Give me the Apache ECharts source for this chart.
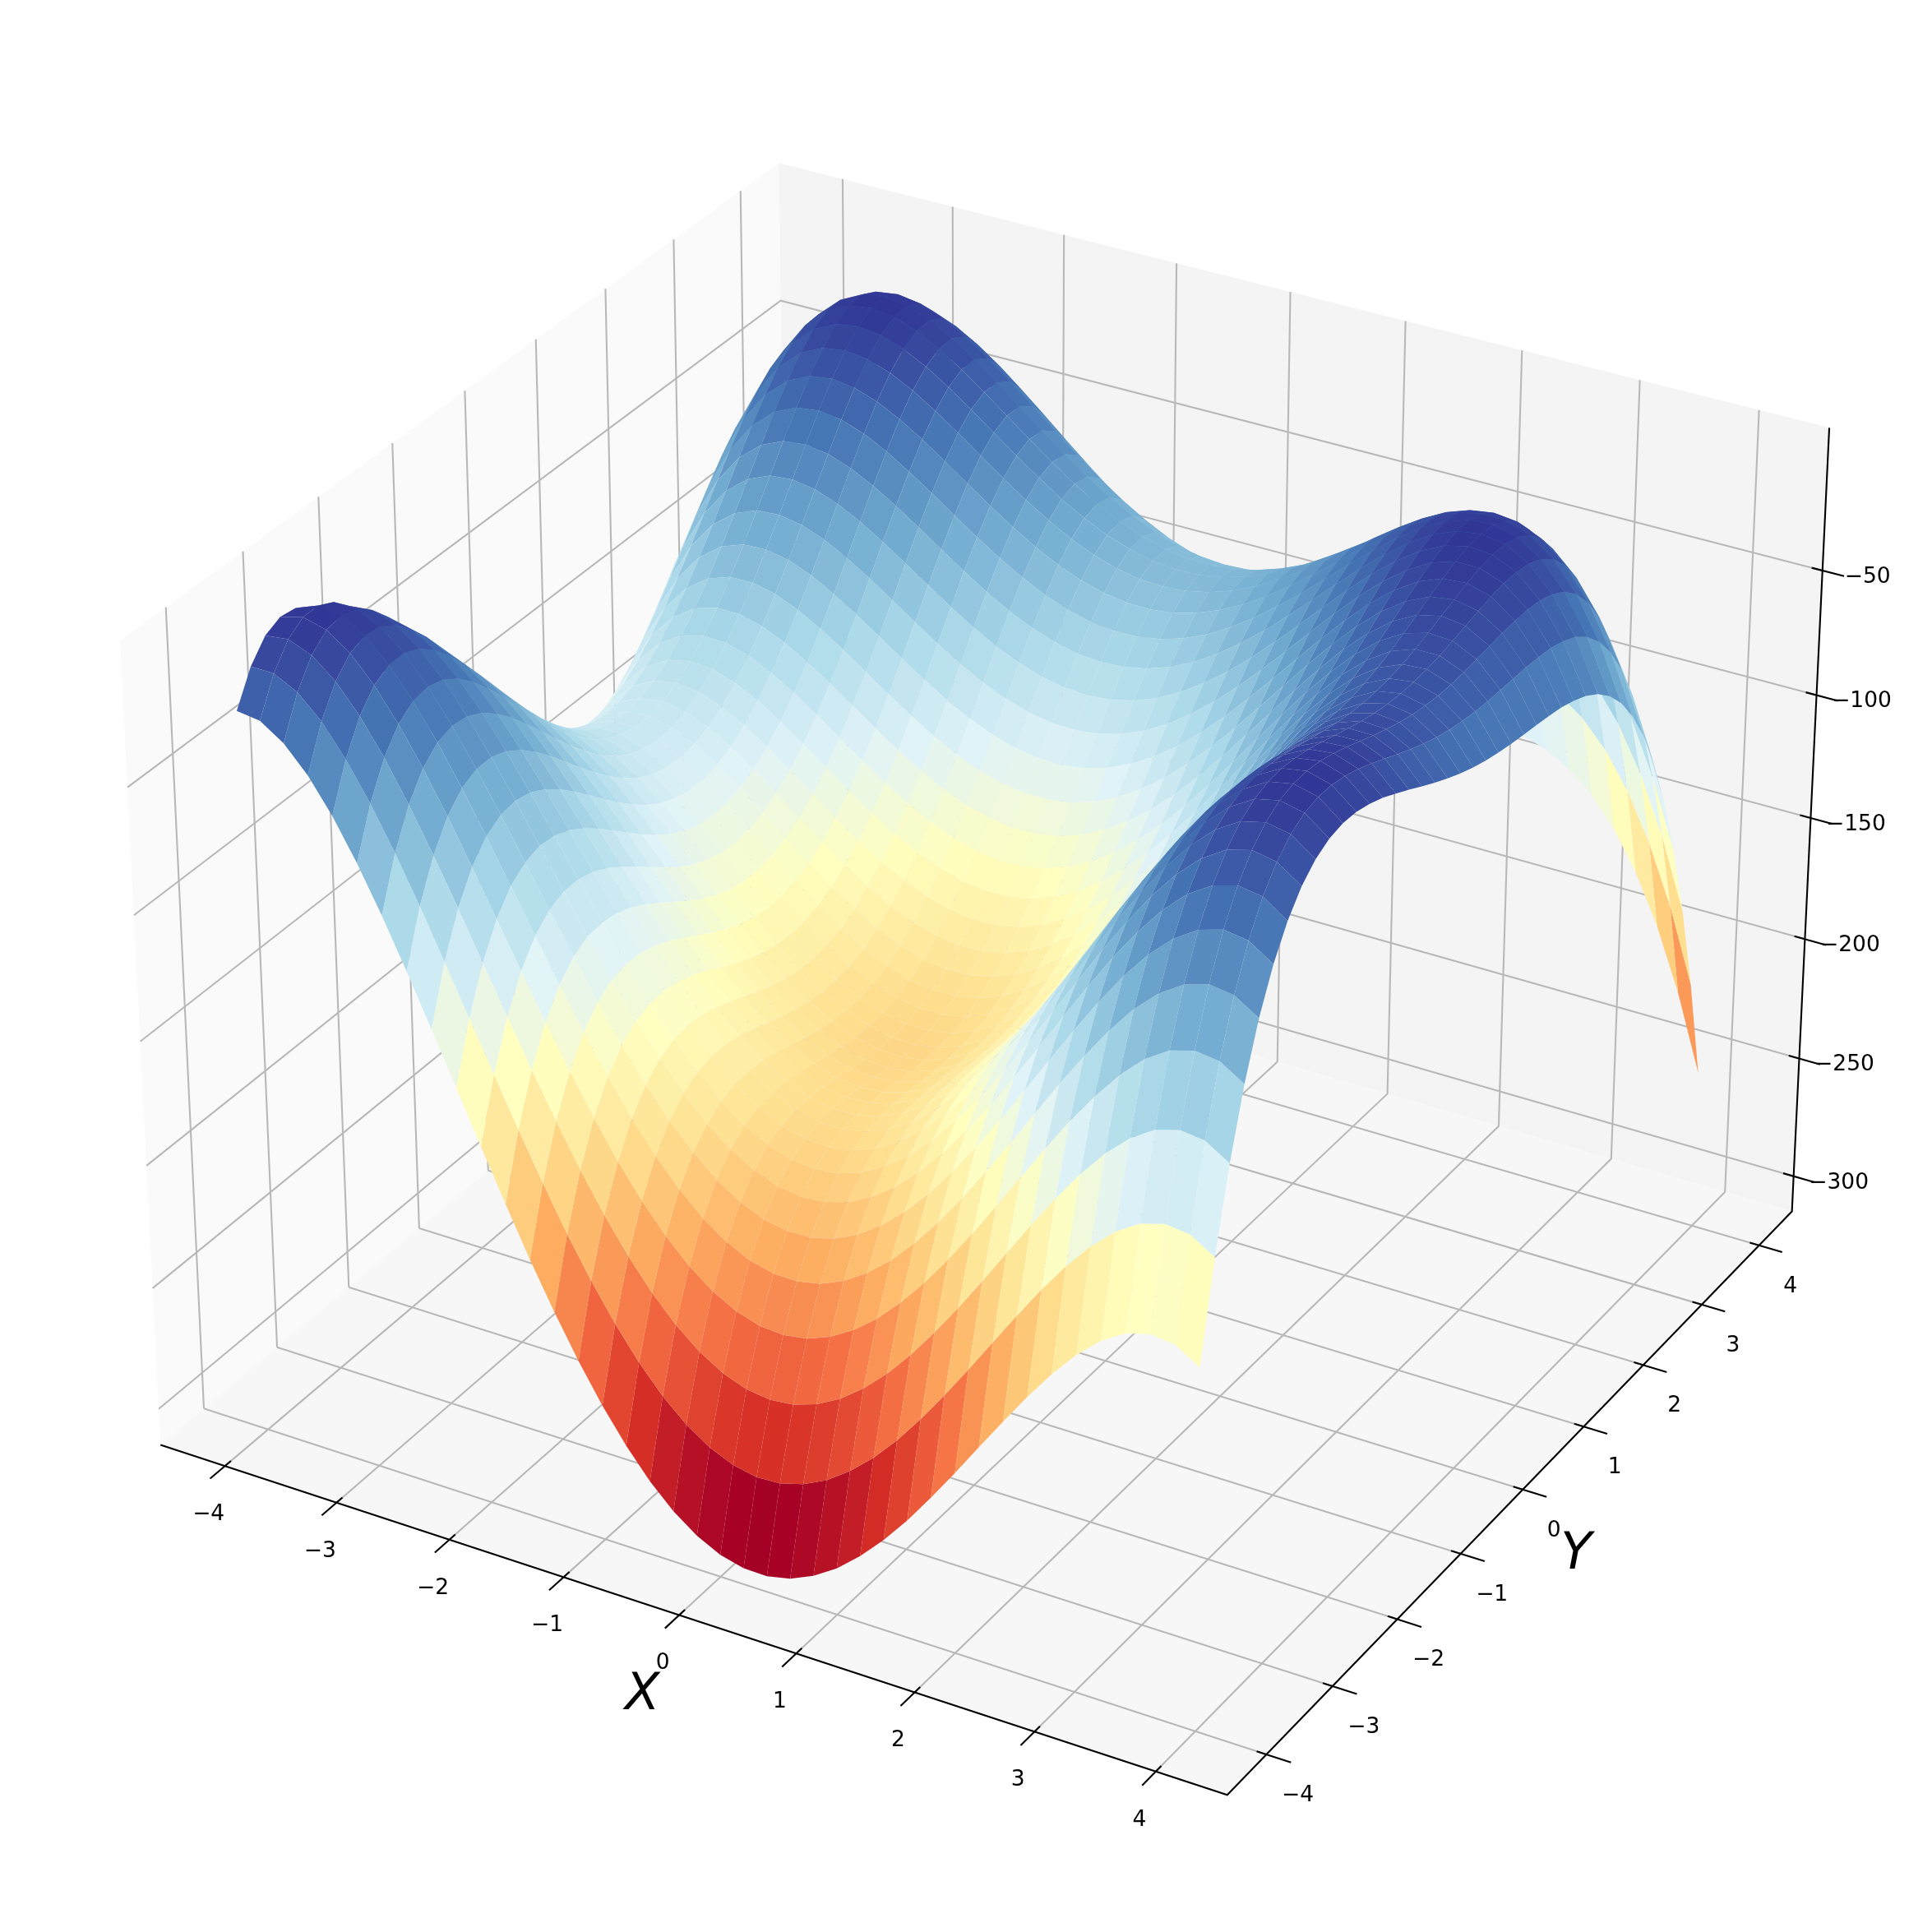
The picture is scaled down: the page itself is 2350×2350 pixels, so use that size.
<!DOCTYPE html>
<html><head><meta charset="utf-8"><style>html,body{margin:0;padding:0;background:#fff}#c{width:2350px;height:2350px}</style>
<script src="https://cdn.jsdelivr.net/npm/echarts@6/dist/echarts.min.js"></script></head><body><div id="c"></div>
<script>
const xTicks=[-4,-3,-2,-1,0,1,2,3,4];
const yTicks=[-4,-3,-2,-1,0,1,2,3,4];
const zTicks=[-300,-250,-200,-150,-100,-50];
// Surface table: literal values on a 41x41 grid (the reference looks closer to 50x50).
// Estimated from a curve fitted to the picture, -[(x^2+y-11)^2+(x+y^2-7)^2], not read point by point.
const surfaceX=[-4,-3.8,-3.6,-3.4,-3.2,-3,-2.8,-2.6,-2.4,-2.2,-2,-1.8,-1.6,-1.4,-1.2,-1,-0.8,-0.6,-0.4,-0.2,0,0.2,0.4,0.6,0.8,1,1.2,1.4,1.6,1.8,2,2.2,2.4,2.6,2.8,3,3.2,3.4,3.6,3.8,4];
const surfaceY=[-4,-3.8,-3.6,-3.4,-3.2,-3,-2.8,-2.6,-2.4,-2.2,-2,-1.8,-1.6,-1.4,-1.2,-1,-0.8,-0.6,-0.4,-0.2,0,0.2,0.4,0.6,0.8,1,1.2,1.4,1.6,1.8,2,2.2,2.4,2.6,2.8,3,3.2,3.4,3.6,3.8,4];
const zRow00=[-26,-27.3,-33.4,-43.2,-56.3,-72,-89.7,-108.9,-129,-149.4,-170,-190.1,-209.6,-227.8,-244.7,-260,-273.4,-284.9,-294.2,-301.2,-306,-308.4,-308.6,-306.5,-302.2,-296,-287.9,-278.2,-267.2,-254.9,-242,-228.6,-215.4,-202.5,-190.5,-180,-171.5,-165.6,-163,-164.1,-170];
const zRow01=[-13.3,-13.4,-18.1,-26.8,-38.8,-53.4,-69.9,-88,-107.1,-126.7,-146.2,-165.4,-183.9,-201.4,-217.4,-231.9,-244.6,-255.3,-263.9,-270.3,-274.4,-276.3,-275.8,-273.1,-268.4,-261.6,-253.2,-243.1,-231.5,-219,-205.7,-192.1,-178.5,-165.4,-153.3,-142.6,-134,-128,-125.3,-126.4,-132.3];
const zRow02=[-5.8,-4.7,-8.3,-15.8,-26.6,-40.1,-55.7,-72.8,-90.8,-109.4,-128,-146.4,-164,-180.6,-195.9,-209.6,-221.5,-231.5,-239.4,-245.2,-248.7,-250,-249,-245.8,-240.6,-233.4,-224.5,-214,-202.1,-189.3,-175.7,-161.9,-148,-134.7,-122.4,-111.6,-102.9,-96.9,-94.1,-95.3,-101.2];
const zRow03=[-2.9,-0.6,-3,-9.4,-19.2,-31.6,-46.1,-62.2,-79.3,-97,-114.7,-132.2,-149,-164.7,-179.3,-192.2,-203.5,-212.8,-220.1,-225.2,-228.2,-228.9,-227.4,-223.7,-218,-210.5,-201.1,-190.3,-178.1,-165,-151.2,-137.1,-123.1,-109.6,-97.2,-86.3,-77.5,-71.4,-68.7,-69.9,-75.8];
const zRow04=[-3.8,-0.4,-1.7,-7,-15.7,-27.1,-40.6,-55.8,-71.9,-88.7,-105.6,-122.2,-138.2,-153.2,-167,-179.3,-189.8,-198.5,-205.2,-209.8,-212.1,-212.3,-210.4,-206.3,-200.2,-192.2,-182.5,-171.3,-158.9,-145.5,-131.5,-117.2,-103,-89.5,-77,-65.9,-57.2,-51.1,-48.3,-49.7,-55.6];
const zRow05=[-8,-3.4,-3.6,-7.9,-15.6,-26,-38.6,-52.8,-68.1,-84,-100,-115.8,-131,-145.3,-158.4,-170,-179.9,-188,-194.1,-198.1,-200,-199.7,-197.3,-192.8,-186.3,-178,-168,-156.5,-143.8,-130.2,-116,-101.6,-87.3,-73.6,-61,-50,-41.2,-35.1,-32.4,-33.8,-40];
const zRow06=[-14.8,-9.2,-8.3,-11.6,-18.2,-27.7,-39.4,-52.7,-67.1,-82.1,-97.4,-112.4,-126.9,-140.5,-152.9,-163.9,-173.2,-180.7,-186.2,-189.8,-191.2,-190.4,-187.6,-182.7,-175.9,-167.2,-156.9,-145.2,-132.3,-118.5,-104.1,-89.5,-75.1,-61.4,-48.8,-37.8,-29,-23,-20.4,-21.9,-28.3];
const zRow07=[-23.7,-17,-15.2,-17.4,-23.1,-31.7,-42.4,-54.9,-68.4,-82.7,-97.2,-111.5,-125.3,-138.2,-149.9,-160.3,-169,-176,-181,-184.1,-185,-183.9,-180.7,-175.4,-168.3,-159.3,-148.8,-136.8,-123.7,-109.8,-95.3,-80.6,-66.1,-52.4,-39.7,-28.8,-20.1,-14.2,-11.7,-13.4,-19.9];
const zRow08=[-34.2,-26.5,-23.6,-24.9,-29.7,-37.3,-47.2,-58.8,-71.6,-85.1,-98.9,-112.5,-125.6,-137.8,-149,-158.8,-167,-173.4,-178,-180.6,-181.1,-179.6,-176,-170.5,-163,-153.8,-143.1,-130.9,-117.6,-103.5,-88.9,-74.2,-59.7,-45.9,-33.3,-22.5,-13.8,-8.1,-5.8,-7.6,-14.4];
const zRow09=[-45.8,-37.1,-33.2,-33.6,-37.5,-44.3,-53.3,-64.1,-76.1,-88.9,-102,-114.9,-127.4,-139,-149.6,-158.8,-166.5,-172.5,-176.6,-178.8,-178.9,-177,-173.1,-167.3,-159.6,-150.2,-139.2,-126.9,-113.5,-99.3,-84.7,-69.9,-55.4,-41.7,-29.1,-18.4,-9.8,-4.2,-2.1,-4.2,-11.2];
const zRow10=[-58,-48.3,-43.6,-43,-46.1,-52,-60.3,-70.3,-81.6,-93.6,-106,-118.3,-130.2,-141.2,-151.3,-160,-167.2,-172.7,-176.4,-178.2,-178,-175.8,-171.6,-165.5,-157.6,-148,-136.9,-124.4,-111,-96.7,-82,-67.2,-52.8,-39.1,-26.7,-16,-7.7,-2.2,-0.4,-2.7,-10];
const zRow11=[-70.5,-59.8,-54.2,-52.8,-55,-60.1,-67.6,-76.9,-87.5,-98.9,-110.6,-122.3,-133.6,-144.1,-153.7,-161.9,-168.7,-173.8,-177.1,-178.5,-178,-175.5,-171.1,-164.7,-156.6,-146.9,-135.6,-123.1,-109.5,-95.2,-80.5,-65.8,-51.4,-37.8,-25.5,-15,-6.9,-1.7,-0.1,-2.7,-10.3];
const zRow12=[-82.8,-71.3,-64.8,-62.6,-63.9,-68.3,-75.1,-83.7,-93.6,-104.3,-115.4,-126.6,-137.3,-147.3,-156.4,-164.2,-170.5,-175.2,-178.2,-179.3,-178.5,-175.7,-171.1,-164.6,-156.3,-146.4,-135.1,-122.5,-108.9,-94.6,-79.9,-65.2,-51,-37.5,-25.4,-15,-7.1,-2.2,-0.8,-3.8,-11.8];
const zRow13=[-94.7,-82.3,-75,-71.9,-72.6,-76.2,-82.3,-90.2,-99.4,-109.6,-120.1,-130.7,-140.9,-150.5,-159.1,-166.4,-172.4,-176.8,-179.4,-180.2,-179.2,-176.2,-171.4,-164.7,-156.3,-146.3,-134.9,-122.2,-108.7,-94.4,-79.8,-65.2,-51.1,-37.8,-25.8,-15.7,-8.1,-3.4,-2.4,-5.7,-14];
const zRow14=[-105.8,-92.6,-84.5,-80.7,-80.6,-83.5,-88.9,-96.2,-104.8,-114.4,-124.4,-134.5,-144.2,-153.3,-161.5,-168.5,-174.1,-178.1,-180.5,-181.1,-179.8,-176.6,-171.6,-164.8,-156.3,-146.2,-134.8,-122.2,-108.6,-94.4,-79.9,-65.5,-51.5,-38.4,-26.6,-16.8,-9.4,-5.1,-4.4,-8.1,-16.9];
const zRow15=[-116,-102,-93.1,-88.6,-87.7,-90,-94.8,-101.4,-109.5,-118.5,-128,-137.6,-146.9,-155.6,-163.4,-170,-175.3,-179.1,-181.2,-181.5,-180,-176.7,-171.6,-164.7,-156.1,-146,-134.6,-122,-108.5,-94.4,-80,-65.7,-51.9,-39,-27.6,-18,-10.9,-7,-6.7,-10.8,-20];
const zRow16=[-125,-110.2,-100.6,-95.3,-93.8,-95.5,-99.6,-105.7,-113.2,-121.7,-130.7,-139.9,-148.7,-157,-164.5,-170.8,-175.8,-179.3,-181.2,-181.3,-179.7,-176.3,-171,-164.1,-155.5,-145.4,-134,-121.4,-108,-94.1,-79.9,-65.8,-52.2,-39.5,-28.4,-19.1,-12.4,-8.8,-9,-13.5,-23.2];
const zRow17=[-132.6,-117.1,-106.7,-100.8,-98.7,-99.7,-103.3,-108.8,-115.8,-123.9,-132.4,-141.1,-149.6,-157.6,-164.7,-170.7,-175.5,-178.8,-180.4,-180.4,-178.7,-175.1,-169.8,-162.8,-154.2,-144.2,-132.8,-120.4,-107.1,-93.3,-79.3,-65.4,-52.1,-39.8,-28.9,-20,-13.7,-10.5,-11.1,-16.1,-26.3];
const zRow18=[-138.7,-122.5,-111.4,-104.9,-102.2,-102.6,-105.6,-110.6,-117.2,-124.8,-132.9,-141.2,-149.4,-157,-163.8,-169.6,-174.2,-177.2,-178.8,-178.6,-176.8,-173.1,-167.8,-160.8,-152.3,-142.3,-131,-118.7,-105.6,-92,-78.2,-64.6,-51.5,-39.5,-29,-20.5,-14.6,-11.9,-12.9,-18.5,-29.2];
const zRow19=[-143.2,-126.3,-114.6,-107.5,-104.2,-104,-106.6,-111.1,-117.2,-124.4,-132.1,-140.1,-147.9,-155.3,-161.9,-167.4,-171.7,-174.7,-176.1,-175.8,-173.9,-170.3,-164.9,-158,-149.5,-139.6,-128.4,-116.3,-103.4,-90,-76.4,-63.1,-50.4,-38.7,-28.6,-20.5,-15.1,-12.8,-14.4,-20.5,-31.8];
const zRow20=[-146,-128.5,-116.2,-108.5,-104.6,-104,-106,-110.1,-115.8,-122.6,-130,-137.7,-145.2,-152.3,-158.6,-164,-168.2,-171,-172.3,-172,-170,-166.4,-161.1,-154.2,-145.8,-136,-125,-113.1,-100.4,-87.3,-74,-61,-48.6,-37.3,-27.6,-20,-15,-13.3,-15.4,-22.1,-34];
const zRow21=[-147.2,-129,-116.2,-107.9,-103.5,-102.4,-104,-107.7,-113,-119.4,-126.5,-133.9,-141.2,-148,-154.2,-159.4,-163.5,-166.1,-167.4,-167.1,-165.1,-161.5,-156.2,-149.4,-141.2,-131.6,-120.8,-109.1,-96.6,-83.8,-70.8,-58.2,-46.2,-35.3,-26.1,-18.9,-14.5,-13.3,-16,-23.2,-35.8];
const zRow22=[-146.7,-128,-114.6,-105.8,-100.9,-99.4,-100.6,-103.9,-108.8,-114.9,-121.7,-128.8,-135.9,-142.6,-148.6,-153.6,-157.6,-160.2,-161.4,-161.1,-159.2,-155.6,-150.5,-143.8,-135.7,-126.3,-115.7,-104.2,-92.1,-79.6,-67,-54.7,-43.1,-32.7,-23.9,-17.3,-13.4,-12.8,-16.1,-24,-37.2];
const zRow23=[-144.6,-125.3,-111.4,-102.2,-96.9,-94.9,-95.7,-98.6,-103.3,-109.1,-115.6,-122.5,-129.4,-135.9,-141.8,-146.7,-150.6,-153.2,-154.4,-154.1,-152.3,-148.8,-143.8,-137.3,-129.4,-120.2,-109.9,-98.7,-86.9,-74.7,-62.5,-50.6,-39.5,-29.6,-21.3,-15.2,-11.9,-11.9,-15.8,-24.4,-38.3];
const zRow24=[-141,-121.2,-106.8,-97.1,-91.4,-89.1,-89.5,-92.1,-96.5,-102,-108.3,-115,-121.7,-128.1,-133.9,-138.8,-142.7,-145.3,-146.5,-146.3,-144.5,-141.2,-136.3,-130,-122.3,-113.4,-103.4,-92.5,-81,-69.2,-57.5,-46,-35.4,-26,-18.2,-12.7,-10,-10.6,-15.2,-24.5,-39.2];
const zRow25=[-136,-115.8,-100.9,-90.8,-84.7,-82,-82.1,-84.5,-88.5,-93.9,-100,-106.5,-113.1,-119.4,-125.1,-130,-133.9,-136.5,-137.8,-137.6,-136,-132.8,-128.2,-122.1,-114.7,-106,-96.3,-85.8,-74.7,-63.3,-52,-41.1,-30.9,-22.1,-14.9,-10,-7.9,-9.2,-14.5,-24.6,-40];
const zRow26=[-129.8,-109.1,-93.9,-83.4,-76.9,-73.9,-73.7,-75.8,-79.7,-84.8,-90.8,-97.2,-103.7,-109.9,-115.6,-120.5,-124.4,-127.1,-128.5,-128.4,-127,-124,-119.6,-113.7,-106.6,-98.2,-88.9,-78.8,-68.1,-57.2,-46.3,-35.9,-26.3,-18,-11.5,-7.2,-5.8,-7.8,-13.8,-24.6,-40.9];
const zRow27=[-122.7,-101.6,-85.9,-75.1,-68.3,-65,-64.6,-66.4,-70.1,-75.1,-80.9,-87.2,-93.7,-99.8,-105.5,-110.4,-114.4,-117.2,-118.7,-118.9,-117.6,-114.8,-110.6,-105.1,-98.3,-90.3,-81.3,-71.6,-61.4,-51,-40.6,-30.7,-21.7,-14,-8.1,-4.5,-3.8,-6.5,-13.4,-25,-42];
const zRow28=[-114.8,-93.3,-77.3,-66.1,-59.1,-55.5,-54.9,-56.5,-60,-64.9,-70.6,-76.9,-83.3,-89.5,-95.2,-100.2,-104.2,-107.1,-108.8,-109.1,-108.1,-105.6,-101.7,-96.5,-90,-82.4,-73.9,-64.6,-54.9,-44.9,-35.1,-25.8,-17.4,-10.4,-5.1,-2.2,-2.3,-5.8,-13.4,-25.8,-43.8];
const zRow29=[-106.5,-84.6,-68.3,-56.8,-49.5,-45.7,-44.9,-46.4,-49.8,-54.5,-60.2,-66.4,-72.8,-79,-84.8,-89.9,-94.1,-97.2,-99,-99.6,-98.8,-96.6,-93,-88.1,-82,-74.9,-66.8,-58,-48.8,-39.4,-30.1,-21.4,-13.7,-7.3,-2.8,-0.6,-1.4,-5.7,-14.2,-27.5,-46.3];
const zRow30=[-98,-75.8,-59.2,-47.5,-40,-36,-35,-36.4,-39.7,-44.4,-50,-56.2,-62.6,-68.9,-74.8,-80,-84.3,-87.6,-89.7,-90.5,-90,-88.1,-84.9,-80.4,-74.7,-68,-60.4,-52.1,-43.4,-34.6,-26,-18,-10.9,-5.2,-1.4,0,-1.6,-6.7,-16,-30.2,-50];
const zRow31=[-89.8,-67.3,-50.5,-38.5,-30.8,-26.7,-25.5,-26.8,-30,-34.7,-40.4,-46.6,-53.1,-59.5,-65.5,-70.8,-75.4,-78.9,-81.2,-82.3,-82.1,-80.6,-77.8,-73.7,-68.4,-62.2,-55.1,-47.4,-39.3,-31,-23.1,-15.7,-9.3,-4.4,-1.3,-0.8,-3.2,-9.2,-19.4,-34.5,-55.2];
const zRow32=[-82.2,-59.5,-42.4,-30.3,-22.4,-18.1,-16.9,-18.1,-21.3,-26,-31.7,-38,-44.6,-51.1,-57.2,-62.8,-67.5,-71.3,-73.9,-75.3,-75.5,-74.4,-71.9,-68.3,-63.6,-57.8,-51.3,-44.1,-36.6,-29,-21.7,-15.1,-9.4,-5.2,-3,-3.3,-6.5,-13.4,-24.6,-40.7,-62.4];
const zRow33=[-75.7,-52.8,-35.5,-23.2,-15.2,-10.9,-9.6,-10.8,-13.9,-18.6,-24.4,-30.8,-37.5,-44.2,-50.5,-56.3,-61.3,-65.4,-68.3,-70.1,-70.6,-69.9,-67.9,-64.8,-60.5,-55.3,-49.4,-42.8,-36,-29.1,-22.5,-16.5,-11.6,-8.3,-6.9,-8,-12.2,-20,-32.1,-49.2,-71.9];
const zRow34=[-70.8,-47.7,-30.3,-17.8,-9.7,-5.3,-4,-5.2,-8.4,-13.1,-19,-25.5,-32.4,-39.3,-45.8,-51.9,-57.2,-61.5,-64.8,-67,-68,-67.7,-66.2,-63.5,-59.8,-55.2,-49.9,-44,-37.8,-31.6,-25.7,-20.5,-16.5,-13.9,-13.4,-15.4,-20.5,-29.3,-42.4,-60.5,-84.3];
const zRow35=[-68,-44.7,-27.2,-14.6,-6.5,-2,-0.7,-1.9,-5.2,-10,-16,-22.7,-29.8,-36.8,-43.7,-50,-55.6,-60.3,-64,-66.6,-68,-68.2,-67.2,-65.1,-62,-58,-53.3,-48,-42.6,-37.1,-32,-27.6,-24.4,-22.7,-23.1,-26,-32.1,-41.8,-56,-75.1,-100];
const zRow36=[-67.8,-44.4,-26.8,-14.2,-6,-1.5,-0.2,-1.5,-4.9,-9.8,-16,-22.9,-30.2,-37.5,-44.6,-51.3,-57.2,-62.3,-66.4,-69.5,-71.3,-72.1,-71.6,-70.1,-67.6,-64.2,-60.2,-55.6,-50.9,-46.2,-41.9,-38.4,-36,-35.2,-36.5,-40.4,-47.4,-58.2,-73.4,-93.7,-119.7];
const zRow37=[-70.9,-47.4,-29.7,-17,-8.8,-4.4,-3.2,-4.6,-8.1,-13.2,-19.5,-26.6,-34.2,-41.8,-49.2,-56.2,-62.6,-68.1,-72.7,-76.2,-78.6,-79.8,-80,-79.1,-77.2,-74.5,-71.1,-67.3,-63.4,-59.5,-56,-53.3,-51.8,-52,-54.2,-59.1,-67.2,-79,-95.3,-116.7,-143.8];
const zRow38=[-77.8,-54.2,-36.5,-23.9,-15.7,-11.3,-10.2,-11.7,-15.4,-20.7,-27.2,-34.6,-42.4,-50.4,-58.2,-65.6,-72.3,-78.3,-83.3,-87.4,-90.3,-92.1,-92.9,-92.6,-91.4,-89.4,-86.8,-83.8,-80.6,-77.5,-74.9,-73.1,-72.6,-73.7,-76.9,-82.8,-92,-104.9,-122.3,-144.8,-173.2];
const zRow39=[-89.3,-65.7,-47.9,-35.3,-27.2,-23,-21.9,-23.6,-27.5,-33,-39.8,-47.5,-55.6,-63.9,-72.1,-79.9,-87.1,-93.6,-99.1,-103.7,-107.2,-109.6,-111,-111.4,-110.9,-109.7,-107.8,-105.6,-103.3,-101.1,-99.4,-98.5,-98.9,-101,-105.3,-112.2,-122.4,-136.5,-155.1,-178.7,-208.3];
const zRow40=[-106,-82.4,-64.7,-52.2,-44.1,-40,-39.2,-41,-45.1,-50.9,-58,-66,-74.5,-83.2,-91.8,-100,-107.7,-114.7,-120.8,-125.9,-130,-133.1,-135.2,-136.3,-136.5,-136,-135,-133.6,-132.1,-130.8,-130,-130.1,-131.5,-134.6,-140,-148,-159.3,-174.6,-194.3,-219.2,-250];
const surfaceZ=[zRow00,zRow01,zRow02,zRow03,zRow04,zRow05,zRow06,zRow07,zRow08,zRow09,zRow10,zRow11,zRow12,zRow13,zRow14,zRow15,zRow16,zRow17,zRow18,zRow19,zRow20,zRow21,zRow22,zRow23,zRow24,zRow25,zRow26,zRow27,zRow28,zRow29,zRow30,zRow31,zRow32,zRow33,zRow34,zRow35,zRow36,zRow37,zRow38,zRow39,zRow40];
const zMin=-308.6,zMax=0;
const L=4.4,A=1.1905,C=0.8929,S=11982,CX=1206.5,CY=1141.1;
const zc=(zMin+zMax)/2,zr=zMax-zMin;
const PL=L+2*L/48,ZP=zr/48,ZB=zMin-ZP,ZT=zMax+ZP;
function P(x,y,z){const bx=x/(2*L)*A,by=y/(2*L)*A,bz=(z-zc)/zr*C;
 const xe=.866025*bx+.5*by,ye=-.25*bx+.433013*by+.866025*bz,d=.433013*bx-.75*by+.5*bz,k=S/(10-d);
 return [CX+xe*k,CY-ye*k,d];}
const panes=[
 {c:'#fafafa',p:[[-PL,-PL,ZB],[-PL,PL,ZB],[-PL,PL,ZT],[-PL,-PL,ZT]]},
 {c:'#f4f4f4',p:[[-PL,PL,ZB],[PL,PL,ZB],[PL,PL,ZT],[-PL,PL,ZT]]},
 {c:'#f7f7f7',p:[[-PL,-PL,ZB],[PL,-PL,ZB],[PL,PL,ZB],[-PL,PL,ZB]]}];
const frame=[];
xTicks.forEach(t=>{frame.push({k:'g',p:[[t,-PL,ZB],[t,PL,ZB],[t,PL,ZT]]});frame.push({k:'t',p:[[t,-PL-.2,ZB],[t,-PL+.08,ZB]]});});
yTicks.forEach(t=>{frame.push({k:'g',p:[[-PL,t,ZB],[PL,t,ZB]]});frame.push({k:'g',p:[[-PL,t,ZB],[-PL,t,ZT]]});frame.push({k:'t',p:[[PL+.2,t,ZB],[PL-.08,t,ZB]]});});
zTicks.forEach(t=>{frame.push({k:'g',p:[[-PL,-PL,t],[-PL,PL,t],[PL,PL,t]]});frame.push({k:'t',p:[[PL+.18,PL,t],[PL-.09,PL,t]]});});
frame.push({k:'a',p:[[-PL,-PL,ZB],[PL,-PL,ZB],[PL,PL,ZB],[PL,PL,ZT]]});
const labels=[];
const fmt=v=>String(v).replace('-','\u2212');
xTicks.forEach(t=>{const q=P(t,-PL,ZB);labels.push({s:fmt(t),x:q[0]-20,y:q[1]+59,f:26.5});});
yTicks.forEach(t=>{const q=P(PL,t,ZB);labels.push({s:fmt(t),x:q[0]+38,y:q[1]+50,f:26.5});});
zTicks.forEach(t=>{const q=P(PL,PL,t);labels.push({s:fmt(t),x:q[0]+55,y:q[1]+8,f:26.5});});
{const q=P(0,-PL,ZB);labels.push({s:'X',x:q[0]-45,y:q[1]+98,f:62,it:1});}
{const q=P(PL,0,ZB);labels.push({s:'Y',x:q[0]+65,y:q[1]+80,f:62,it:1});}
const cells=[];
for(let j=0;j<surfaceY.length-1;j++)for(let i=0;i<surfaceX.length-1;i++){
 const pts=[[i,j],[i+1,j],[i+1,j+1],[i,j+1]].map(([a,b])=>[surfaceX[a],surfaceY[b],surfaceZ[b][a]]);
 const avg=pts.reduce((s,p)=>s+p[2],0)/4;
 const dep=pts.reduce((s,p)=>s+P(p[0],p[1],p[2])[2],0)/4;
 cells.push({value:[i,j,avg],dep});}
cells.sort((a,b)=>a.dep-b.dep);
const avgs=cells.map(c=>c.value[2]);
const chart=echarts.init(document.getElementById('c'),null,{renderer:'canvas'});
chart.setOption({animation:false,backgroundColor:'#fff',
 visualMap:{show:false,seriesIndex:3,dimension:2,min:Math.min(...avgs),max:Math.max(...avgs),inRange:{color:['#a50026','#d73027','#f46d43','#fdae61','#fee090','#ffffbf','#e0f3f8','#abd9e9','#74add1','#4575b4','#313695']}},
 series:[
 {type:'custom',coordinateSystem:'none',silent:true,z:1,data:panes.map((_,i)=>[i]),renderItem:(p,api)=>{const o=panes[api.value(0)];return {type:'polygon',shape:{points:o.p.map(q=>P(...q).slice(0,2))},style:{fill:o.c}};}},
 {type:'custom',coordinateSystem:'none',silent:true,z:2,data:frame.map((_,i)=>[i]),renderItem:(p,api)=>{const o=frame[api.value(0)];return {type:'polyline',shape:{points:o.p.map(q=>P(...q).slice(0,2))},style:{fill:null,stroke:o.k==='g'?'#b8b8b8':'#000',lineWidth:2.1}};}},
 {type:'custom',coordinateSystem:'none',silent:true,z:3,data:labels.map((_,i)=>[i]),renderItem:(p,api)=>{const o=labels[api.value(0)];return {type:'text',x:o.x,y:o.y,style:{text:o.s,fill:'#000',font:(o.it?'italic ':'')+o.f+'px "DejaVu Sans"',textAlign:'center',textVerticalAlign:'middle'}};}},
 {type:'custom',coordinateSystem:'none',silent:true,z:4,progressive:0,data:cells.map(c=>c.value),renderItem:(p,api)=>{const i=api.value(0),j=api.value(1);
  const pts=[[i,j],[i+1,j],[i+1,j+1],[i,j+1]].map(([a,b])=>P(surfaceX[a],surfaceY[b],surfaceZ[b][a]).slice(0,2));
  return {type:'polygon',shape:{points:pts},style:{fill:api.visual('color')}};}}
 ]});
</script></body></html>
